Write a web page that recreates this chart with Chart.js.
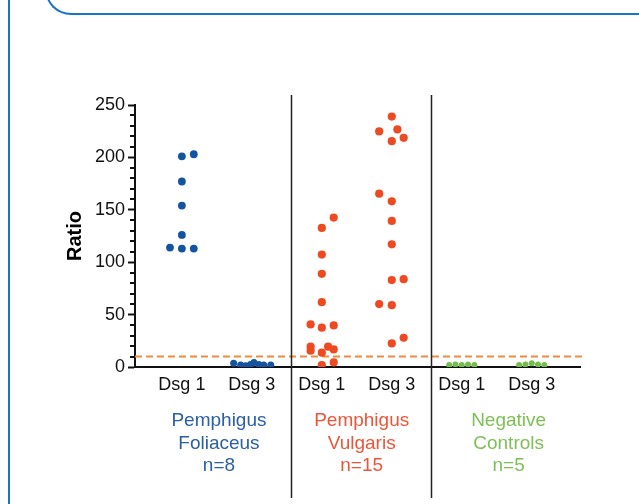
<!DOCTYPE html>
<html>
<head>
<meta charset="utf-8">
<script src="https://cdn.jsdelivr.net/npm/chart.js@4/dist/chart.umd.min.js"></script>
<style>
  body { margin: 0; background: #fff; }
  #wrap { position: relative; width: 639px; height: 504px; overflow: hidden; }
  #sideLine { position: absolute; left: 8px; top: 0; width: 2px; height: 504px; background: #1a74c8; }
  #topBox { position: absolute; left: 45px; top: -40px; width: 640px; height: 53px;
            border-left: 2px solid #1a74c8; border-bottom: 2px solid #1a74c8; border-bottom-left-radius: 26px; }
</style>
</head>
<body>
<div id="wrap">
  <canvas id="chart"></canvas>
  <div id="sideLine"></div>
  <div id="topBox"></div>
</div>
<script>
// categories along the x axis
var catLabels = ["Dsg 1", "Dsg 3", "Dsg 1", "Dsg 3", "Dsg 1", "Dsg 3"];
var groupLabels = [["Pemphigus", "Foliaceus", "n=8"], ["Pemphigus", "Vulgaris", "n=15"], ["Negative", "Controls", "n=5"]];
var groupPos = [1.53, 3.57, 5.67];
var dividers = [2.56, 4.56];
var cutoff = 10;

// Pemphigus foliaceus
var pfDsg1 = [201, 203, 177, 154, 126, 114, 113, 113];
var pfDsg1Jit = [0, 0.17, 0, 0, 0, -0.17, 0, 0.17];
var pfDsg3 = [3.5, 1.9, 1.2, 2.5, 4.4, 2.5, 1.9, 1.9];
var pfDsg3Jit = [-0.26, -0.16, -0.09, -0.02, 0.03, 0.1, 0.17, 0.27];

// Pemphigus vulgaris
var pvDsg1 = [142.6, 132.7, 107.3, 88.9, 61.9, 40.6, 37.5, 39.7, 19.4, 15.5, 19.4, 16.8, 13.7, 1.9, 4.4];
var pvDsg1Jit = [0.17, 0, 0, 0, 0, -0.16, 0, 0.17, -0.16, -0.16, 0.09, 0.17, 0, 0, 0.17];
var pvDsg3 = [239, 224.8, 226.7, 215.5, 218.7, 165.4, 158.1, 139.4, 117.1, 82.9, 83.8, 60, 59, 22.5, 27.9];
var pvDsg3Jit = [0, -0.18, 0.08, 0, 0.17, -0.18, 0, 0, 0, 0, 0.17, -0.18, 0, 0, 0.17];

// negative controls
var ncDsg1 = [2, 2.5, 2, 2.5, 2];
var ncDsg1Jit = [-0.18, -0.09, 0, 0.09, 0.18];
var ncDsg3 = [2, 2.5, 3.5, 2.5, 2];
var ncDsg3Jit = [-0.18, -0.09, 0, 0.09, 0.18];

var blue = "#12549f", red = "#ee4a22", green = "#74bd4c";
var groupColors = ["#2b5fa6", "#ec5638", "#7ec057"];

function pts(cat, vals, jit) {
	return vals.map(function (v, i) { return { x: cat + jit[i], y: v }; });
}

function dots(vals, jit, cat, color, r) {
	return {
		data: pts(cat, vals, jit),
		backgroundColor: color,
		borderColor: color,
		borderWidth: 0,
		pointRadius: r
	};
}

var extras = {
	id: "extras",
	beforeDatasetsDraw: function (chart) {
		var ctx = chart.ctx, ys = chart.scales.y, area = chart.chartArea;
		// cut-off line
		var yc = ys.getPixelForValue(cutoff);
		ctx.save();
		ctx.strokeStyle = "#f08a3c";
		ctx.lineWidth = 2;
		ctx.setLineDash([7, 4]);
		ctx.beginPath();
		ctx.moveTo(area.left, yc);
		ctx.lineTo(area.right + 3, yc);
		ctx.stroke();
		ctx.restore();
	},
	afterDraw: function (chart) {
		var ctx = chart.ctx, xs = chart.scales.x, ys = chart.scales.y, area = chart.chartArea;
		ctx.save();
		// group dividers
		ctx.strokeStyle = "#222";
		ctx.lineWidth = 1.5;
		dividers.forEach(function (d) {
			var px = Math.round(xs.getPixelForValue(d)) + 0.5;
			ctx.beginPath();
			ctx.moveTo(px, area.top - 10);
			ctx.lineTo(px, chart.height - 6);
			ctx.stroke();
		});
		// minor ticks
		ctx.strokeStyle = "#111";
		ctx.lineWidth = 2;
		for (var v = 10; v < 250; v += 10) {
			if (v % 50 === 0) continue;
			var py = Math.round(ys.getPixelForValue(v));
			ctx.beginPath();
			ctx.moveTo(area.left - 5, py);
			ctx.lineTo(area.left, py);
			ctx.stroke();
		}
		ctx.restore();
	}
};

var chart1 = new Chart(document.getElementById("chart"), {
	type: "scatter",
	data: {
		datasets: [
			dots(pfDsg1, pfDsg1Jit, 1, blue, 3.9),
			dots(pfDsg3, pfDsg3Jit, 2, blue, 3.5),
			dots(pvDsg1, pvDsg1Jit, 3, red, 4.1),
			dots(pvDsg3, pvDsg3Jit, 4, red, 4.1),
			dots(ncDsg1, ncDsg1Jit, 5, green, 3),
			dots(ncDsg3, ncDsg3Jit, 6, green, 3)
		]
	},
	options: {
		responsive: true,
		maintainAspectRatio: false,
		animation: false,
		layout: { padding: { top: 105, right: 59, bottom: 0, left: 0 } },
		plugins: { legend: { display: false }, tooltip: { enabled: false } },
		scales: {
			y: {
				min: 0,
				max: 250,
				afterFit: function (s) { s.width = 135; },
				ticks: { stepSize: 50, color: "#111", font: { family: "Liberation Sans", size: 18 }, padding: 3 },
				grid: { drawOnChartArea: false, tickLength: 7, tickColor: "#111", tickWidth: 2 },
				border: { color: "#111", width: 2 },
				title: {
					display: true, text: "Ratio", color: "#000",
					font: { family: "Liberation Sans", size: 20, weight: "bold" },
					padding: { top: 63, bottom: 0 }
				}
			},
			x: {
				type: "linear",
				min: 0.33,
				max: 6.69,
				afterFit: function (s) { s.height = 36; },
				afterBuildTicks: function (s) {
					s.ticks = catLabels.map(function (c, i) { return { value: i + 1 }; });
				},
				ticks: {
					autoSkip: false, maxRotation: 0, padding: 7, color: "#111",
					font: { family: "Liberation Sans", size: 18 },
					callback: function (v, i) { return catLabels[i]; }
				},
				grid: { display: false, drawTicks: false },
				border: { color: "#111", width: 2 }
			},
			x2: {
				type: "linear",
				position: "bottom",
				min: 0.33,
				max: 6.69,
				afterFit: function (s) { s.height = 101; },
				afterBuildTicks: function (s) {
					s.ticks = groupPos.map(function (p) { return { value: p }; });
				},
				ticks: {
					autoSkip: false, maxRotation: 0, padding: 7,
					font: { family: "Liberation Sans", size: 19, lineHeight: 1.17 },
					color: function (c) { return groupColors[c.index]; },
					callback: function (v, i) { return groupLabels[i]; }
				},
				grid: { display: false, drawTicks: false },
				border: { display: false }
			}
		}
	},
	plugins: [extras]
});
</script>
</body>
</html>
